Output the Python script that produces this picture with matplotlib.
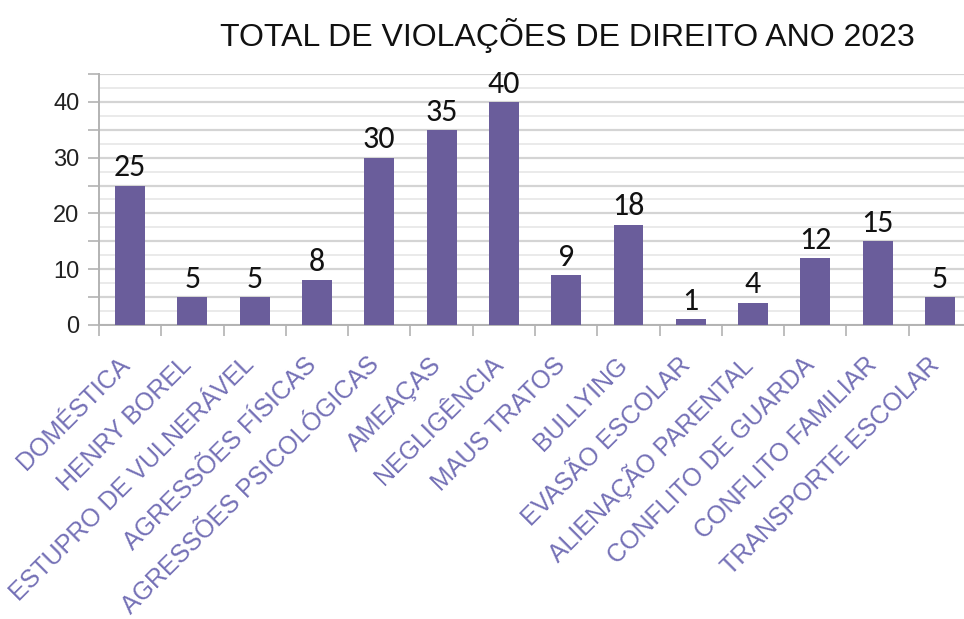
import numpy as np
import matplotlib
matplotlib.use('Agg')
import matplotlib.pyplot as plt
from matplotlib.ticker import MultipleLocator

categories = ['DOMÉSTICA', 'HENRY BOREL', 'ESTUPRO DE VULNERÁVEL', 'AGRESSÕES FÍSICAS',
              'AGRESSÕES PSICOLÓGICAS', 'AMEAÇAS', 'NEGLIGÊNCIA', 'MAUS TRATOS',
              'BULLYING', 'EVASÃO ESCOLAR', 'ALIENAÇÃO PARENTAL', 'CONFLITO DE GUARDA',
              'CONFLITO FAMILIAR', 'TRANSPORTE ESCOLAR']
values = [25, 5, 5, 8, 30, 35, 40, 9, 18, 1, 4, 12, 15, 5]
title = 'TOTAL DE VIOLAÇÕES DE DIREITO ANO 2023'

BAR = '#6A5D9B'
LABEL = '#7470B6'
GRID_MAJOR = '#D4D4D4'
GRID_MINOR = '#E6E6E6'
AXIS = '#B3B3B3'

plt.rcParams['font.family'] = ['Liberation Sans', 'DejaVu Sans']

fig = plt.figure(figsize=(9.64, 6.19), dpi=100)
ax = fig.add_axes([0.1027, 0.4750, 0.9046, 0.4055])

x = np.arange(len(categories))
ax.bar(x, values, width=0.48, color=BAR, zorder=3)

# value labels on top of the bars
for xi, v in zip(x, values):
    ax.annotate(str(v), (xi, v), xytext=(0, 3), textcoords='offset points',
                ha='center', va='bottom', fontsize=23, color='#111111',
                family=['Carlito', 'DejaVu Sans'], zorder=4)

ax.set_xlim(-0.5, len(categories) - 0.5)
ax.set_ylim(0, 45)

ax.yaxis.set_minor_locator(MultipleLocator(2.5))
ax.set_yticks([0, 5, 10, 15, 20, 25, 30, 35, 40, 45])
ax.set_yticklabels(['0', '', '10', '', '20', '', '30', '', '40', ''])
ax.grid(axis='y', which='major', color=GRID_MAJOR, linewidth=1.6, zorder=0)
ax.grid(axis='y', which='minor', color=GRID_MINOR, linewidth=1.2, zorder=0)
ax.tick_params(axis='y', which='major', length=8, width=1.2, color=AXIS,
               labelsize=17, labelcolor='#222222', pad=6)
ax.tick_params(axis='y', which='minor', length=0)

# ticks sit on the category boundaries, labels are placed by hand
ax.set_xticks(np.arange(len(categories) + 1) - 0.5)
ax.set_xticklabels([''] * (len(categories) + 1))
ax.tick_params(axis='x', length=8, width=1.2, color=AXIS)
for xi, lab in zip(x, categories):
    ax.annotate(lab, (xi, 0), xytext=(-3, -26), textcoords='offset points',
                rotation=45, rotation_mode='anchor', ha='right', va='center',
                fontsize=18, color=LABEL, annotation_clip=False)

for s in ('top', 'right'):
    ax.spines[s].set_visible(False)
for s in ('left', 'bottom'):
    ax.spines[s].set_color(AXIS)
    ax.spines[s].set_linewidth(1.4)

fig.text(0.589, 0.943, title, ha='center', va='center', fontsize=23, color='#111111')

fig.savefig('out.png', dpi=100)
